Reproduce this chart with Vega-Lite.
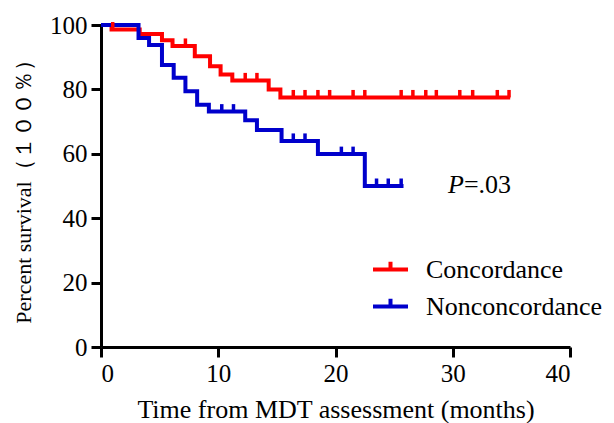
{
  "$schema": "https://vega.github.io/schema/vega-lite/v6.json",
  "width": 469,
  "height": 322,
  "autosize": {"type": "none"},
  "padding": {"left": 101, "top": 25, "right": 44, "bottom": 76},
  "background": "white",
  "config": {
    "view": {"stroke": null},
    "font": "Liberation Serif",
    "axis": {
      "grid": false,
      "domainColor": "black",
      "domainWidth": 3,
      "tickColor": "black",
      "tickWidth": 3,
      "tickSize": 10,
      "labelFont": "Liberation Serif",
      "labelFontSize": 25,
      "labelColor": "black",
      "titleFont": "Liberation Serif",
      "titleFontSize": 26,
      "titleFontWeight": "normal",
      "titleColor": "black"
    }
  },
  "datasets": {
    "curves": [
      {"group": "Concordance", "t": 0, "s": 100},
      {"group": "Concordance", "t": 0.9, "s": 98.6},
      {"group": "Concordance", "t": 3.3, "s": 97.2},
      {"group": "Concordance", "t": 5.2, "s": 95.3},
      {"group": "Concordance", "t": 6.1, "s": 93.5},
      {"group": "Concordance", "t": 8.0, "s": 90.3},
      {"group": "Concordance", "t": 9.3, "s": 87.2},
      {"group": "Concordance", "t": 10.2, "s": 84.6},
      {"group": "Concordance", "t": 11.2, "s": 82.8},
      {"group": "Concordance", "t": 14.3, "s": 80.0},
      {"group": "Concordance", "t": 15.3, "s": 77.5},
      {"group": "Concordance", "t": 34.9, "s": 77.5},
      {"group": "Nonconcordance", "t": 0, "s": 100},
      {"group": "Nonconcordance", "t": 3.2, "s": 96.0},
      {"group": "Nonconcordance", "t": 4.1, "s": 93.8},
      {"group": "Nonconcordance", "t": 5.2, "s": 87.6},
      {"group": "Nonconcordance", "t": 6.2, "s": 83.6},
      {"group": "Nonconcordance", "t": 7.2, "s": 79.4},
      {"group": "Nonconcordance", "t": 8.2, "s": 75.2},
      {"group": "Nonconcordance", "t": 9.2, "s": 73.1},
      {"group": "Nonconcordance", "t": 12.3, "s": 70.4},
      {"group": "Nonconcordance", "t": 13.3, "s": 67.4},
      {"group": "Nonconcordance", "t": 15.4, "s": 64.0},
      {"group": "Nonconcordance", "t": 18.5, "s": 59.9},
      {"group": "Nonconcordance", "t": 22.5, "s": 50.0},
      {"group": "Nonconcordance", "t": 25.8, "s": 50.0}
    ],
    "censor": [
      {"group": "Concordance", "t": 1.0, "s": 98.6},
      {"group": "Concordance", "t": 7.2, "s": 93.5},
      {"group": "Concordance", "t": 12.3, "s": 82.8},
      {"group": "Concordance", "t": 13.3, "s": 82.8},
      {"group": "Concordance", "t": 16.4, "s": 77.5},
      {"group": "Concordance", "t": 17.4, "s": 77.5},
      {"group": "Concordance", "t": 18.5, "s": 77.5},
      {"group": "Concordance", "t": 19.5, "s": 77.5},
      {"group": "Concordance", "t": 21.5, "s": 77.5},
      {"group": "Concordance", "t": 22.5, "s": 77.5},
      {"group": "Concordance", "t": 25.6, "s": 77.5},
      {"group": "Concordance", "t": 26.6, "s": 77.5},
      {"group": "Concordance", "t": 27.7, "s": 77.5},
      {"group": "Concordance", "t": 28.6, "s": 77.5},
      {"group": "Concordance", "t": 30.6, "s": 77.5},
      {"group": "Concordance", "t": 31.7, "s": 77.5},
      {"group": "Concordance", "t": 33.8, "s": 77.5},
      {"group": "Concordance", "t": 34.8, "s": 77.5},
      {"group": "Nonconcordance", "t": 10.3, "s": 73.1},
      {"group": "Nonconcordance", "t": 11.3, "s": 73.1},
      {"group": "Nonconcordance", "t": 16.4, "s": 64.0},
      {"group": "Nonconcordance", "t": 17.4, "s": 64.0},
      {"group": "Nonconcordance", "t": 20.5, "s": 59.9},
      {"group": "Nonconcordance", "t": 21.5, "s": 59.9},
      {"group": "Nonconcordance", "t": 23.5, "s": 50.0},
      {"group": "Nonconcordance", "t": 24.5, "s": 50.0},
      {"group": "Nonconcordance", "t": 25.6, "s": 50.0}
    ]
  },
  "layer": [
    {
      "data": {"name": "curves"},
      "mark": {"type": "line", "interpolate": "step-after", "strokeWidth": 4},
      "encoding": {
        "x": {
          "field": "t", "type": "quantitative",
          "scale": {"domain": [0, 40]},
          "axis": {
            "values": [0, 10, 20, 30, 40], "title": "Time from MDT assessment (months)", "titlePadding": 10, "labelPadding": 4, "titleFontSize": 26,
            "encode": {"labels": {"update": {"font": {"value": "Liberation Serif"}, "fontSize": {"value": 25}}}}
          }
        },
        "y": {
          "field": "s", "type": "quantitative",
          "scale": {"domain": [0, 100]},
          "axis": {
            "values": [0, 20, 40, 60, 80, 100], "title": "Percent survival（１００％）", "titlePadding": 14, "labelPadding": 4, "titleFontSize": 22,
            "encode": {"labels": {"update": {"font": {"value": "Liberation Serif"}, "fontSize": {"value": 25}}}}
          }
        },
        "color": {
          "field": "group", "type": "nominal",
          "scale": {"domain": ["Concordance", "Nonconcordance"], "range": ["#ff0000", "#0000cc"]},
          "legend": {
            "orient": "none", "legendX": 270, "legendY": 225, "title": null,
            "symbolType": "M-1,0H1M0,0V-0.45", "symbolSize": 1225, "symbolStrokeWidth": 4,
            "labelFont": "Liberation Serif", "labelFontSize": 26, "labelColor": "black", "labelLimit": 400,
            "labelOffset": 16, "rowPadding": 4, "padding": 0
          }
        }
      }
    },
    {
      "data": {"name": "censor"},
      "mark": {"type": "point", "shape": "M0,0V-1", "size": 225, "strokeWidth": 3.5, "filled": false, "opacity": 1},
      "encoding": {
        "x": {"field": "t", "type": "quantitative"},
        "y": {"field": "s", "type": "quantitative"},
        "color": {"field": "group", "type": "nominal", "legend": null}
      }
    },
    {
      "data": {"values": [{}]},
      "mark": {"type": "text", "text": "P", "font": "Liberation Serif", "fontStyle": "italic", "fontSize": 26, "align": "left", "baseline": "middle", "color": "black"},
      "encoding": {
        "x": {"datum": 29.6, "type": "quantitative"},
        "y": {"datum": 50.3, "type": "quantitative"}
      }
    },
    {
      "data": {"values": [{}]},
      "mark": {"type": "text", "text": "=.03", "font": "Liberation Serif", "fontSize": 26, "align": "left", "baseline": "middle", "color": "black"},
      "encoding": {
        "x": {"datum": 30.95, "type": "quantitative"},
        "y": {"datum": 50.3, "type": "quantitative"}
      }
    }
  ]
}
